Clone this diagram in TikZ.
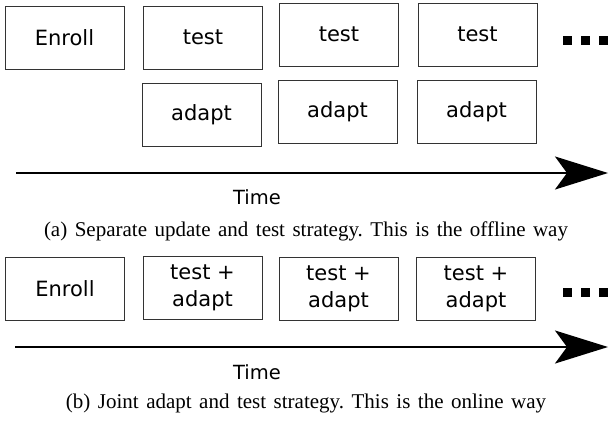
\documentclass[tikz,border=0pt]{standalone}
\usepackage{fontspec}
\setmainfont{Liberation Serif}
\newfontfamily\boxfont{DejaVu Sans}
\usepackage{tikz}
\usetikzlibrary{arrows.meta}
\newcommand\capfont{\fontsize{21}{25}\selectfont\frenchspacing\spaceskip=7.5pt\relax}

\begin{document}
\begin{tikzpicture}[x=1pt,y=-1pt,
  stage/.style={draw=black!80,line width=1pt,minimum width=119pt,minimum height=63pt,
    inner sep=0pt,align=center,font=\boxfont\fontsize{21}{27}\selectfont},
  timeline/.style={line width=2pt,-{Stealth[length=53pt,width=33pt,inset=12pt]}},
  timelabel/.style={font=\boxfont\fontsize{19.5}{23}\selectfont},
  caption/.style={font=\capfont}]
\useasboundingbox (0,0) rectangle (609,424);
% (a) offline
\node[stage] (enrollA) at (64.5,37.5) {Enroll};
\node[stage] (testA1) at (203,37.5) {test};
\node[stage] (adaptA1) at (201.5,114.5) {adapt};
\node[stage] (testA2) at (339,34.5) {test};
\node[stage] (adaptA2) at (337.5,111.5) {adapt};
\node[stage] (testA3) at (477.5,34.5) {test};
\node[stage] (adaptA3) at (476.5,112) {adapt};
\foreach \x in {567,585,603}
  \fill (\x-4.5,36) rectangle (\x+4.5,45);
\coordinate (startA) at (16,173);
\coordinate (endA) at (608,173);
\draw[timeline] (startA) -- (endA);
\node[timelabel] (timeA) at (257,197) {Time};
\node[caption] (capA) at (306,231) {(a) Separate update and test strategy. This is the offline way};
% (b) online
\node[stage] (enrollB) at (65,288.5) {Enroll};
\node[stage] (tadB1) at (202.5,287.5) {test +\\adapt};
\node[stage] (tadB2) at (338.5,288.5) {test +\\adapt};
\node[stage] (tadB3) at (476,288.5) {test +\\adapt};
\foreach \x in {567,585,603}
  \fill (\x-4.5,287.5) rectangle (\x+4.5,296.5);
\coordinate (startB) at (15,347);
\coordinate (endB) at (608,347);
\draw[timeline] (startB) -- (endB);
\node[timelabel] (timeB) at (257,372) {Time};
\node[caption] (capB) at (306,403) {(b) Joint adapt and test strategy. This is the online way};
\end{tikzpicture}
\end{document}
